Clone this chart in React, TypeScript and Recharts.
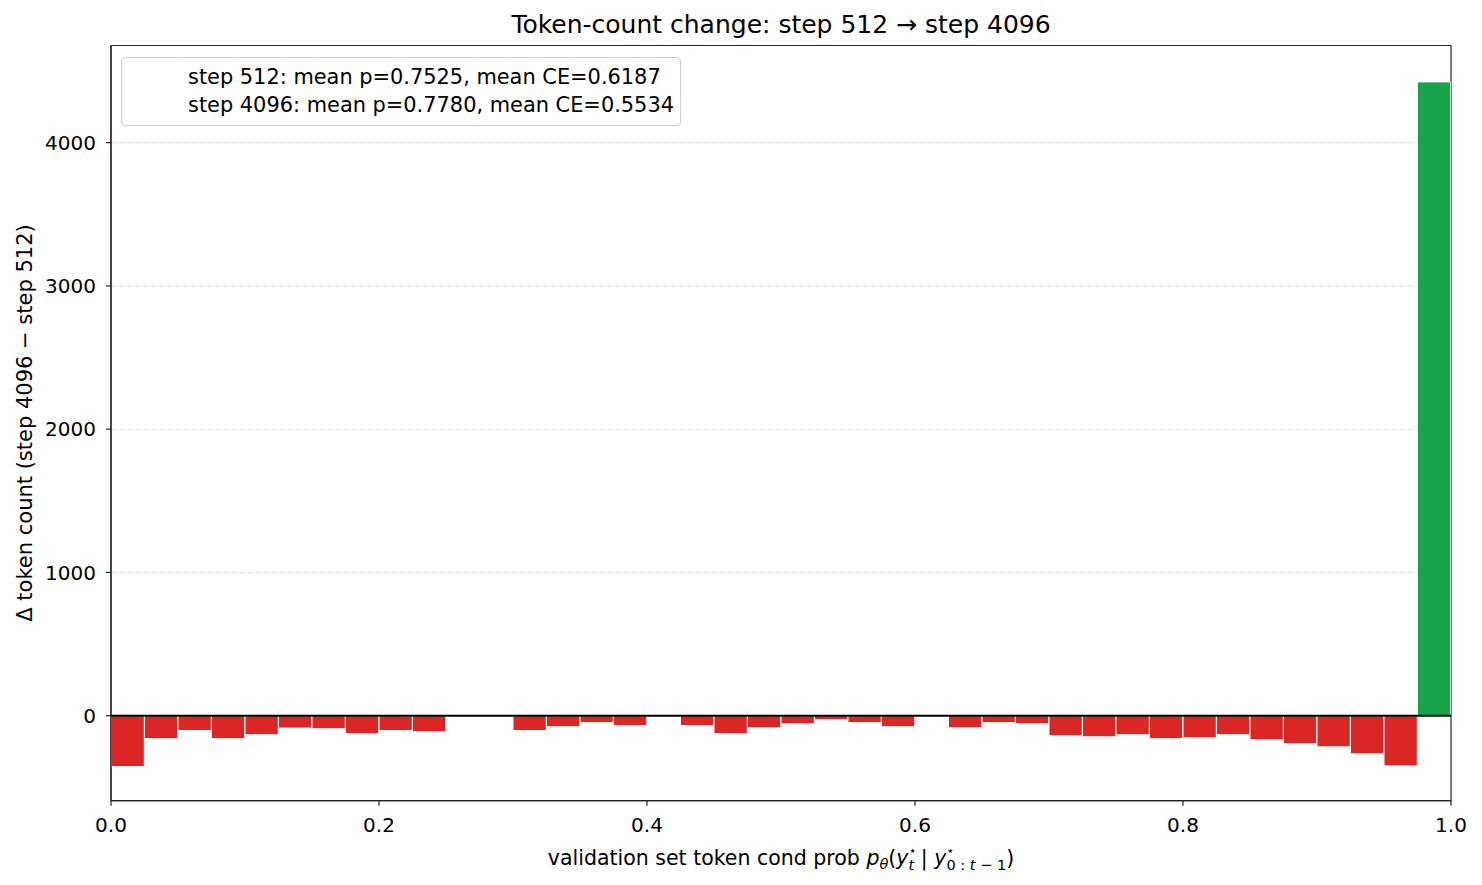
import { Bar, BarChart, CartesianGrid, Cell, ReferenceArea, ReferenceLine, XAxis, YAxis } from "recharts";

// centres of the 40 bins (width 0.025) over [0, 1]
const BIN_CENTERS = [
  0.0125, 0.0375, 0.0625, 0.0875, 0.1125, 0.1375, 0.1625, 0.1875, 0.2125, 0.2375,
  0.2625, 0.2875, 0.3125, 0.3375, 0.3625, 0.3875, 0.4125, 0.4375, 0.4625, 0.4875,
  0.5125, 0.5375, 0.5625, 0.5875, 0.6125, 0.6375, 0.6625, 0.6875, 0.7125, 0.7375,
  0.7625, 0.7875, 0.8125, 0.8375, 0.8625, 0.8875, 0.9125, 0.9375, 0.9625, 0.9875,
];

// step 4096 count minus step 512 count, per bin
const DELTA = [
  -355, -160, -103, -160, -133, -86, -91, -126, -103, -112,
  0, 0, -103, -77, -48, -69, 0, -69, -126, -84,
  -56, -28, -48, -77, 0, -84, -48, -56, -140, -147,
  -133, -160, -154, -133, -168, -196, -217, -266, -350, 4424,
];

const X_TICKS = [0, 0.2, 0.4, 0.6, 0.8, 1.0];
const Y_TICKS = [0, 1000, 2000, 3000, 4000];
const Y_DOMAIN: [number, number] = [-593, 4678];

const LEGEND_LINES = [
  "step 512: mean p=0.7525, mean CE=0.6187",
  "step 4096: mean p=0.7780, mean CE=0.5534",
];

const RED = "#dc2626";
const GREEN = "#16a34a";
const SPINE = "#222222";
const FONT = "'DejaVu Sans', sans-serif";

const W = 1482;
const H = 885;
const PLOT_W = 1340; // 111 .. 1451
// a hair under the bin width, otherwise recharts shrinks bars to 90%
const BAR_W = PLOT_W / BIN_CENTERS.length - 0.2;

const data = BIN_CENTERS.map((mid, i) => ({ mid, delta: DELTA[i] }));

const tickStyle = { fontSize: 20, fill: "#000", fontFamily: FONT };

export default function App() {
  return (
    <div style={{ position: "absolute", left: 0, top: 0, width: W, height: H, background: "#fff", fontFamily: FONT }}>
      <BarChart
        width={W}
        height={H}
        data={data}
        barCategoryGap={0}
        barGap={0}
        margin={{ top: 45.5, right: 31, bottom: 44.3, left: 11 }}
      >
        <CartesianGrid
          vertical={false}
          stroke="#e2e2e2"
          strokeDasharray="5.5 2.5"
          strokeWidth={1.1}
        />
        <XAxis
          dataKey="mid"
          type="number"
          domain={[0, 1]}
          ticks={X_TICKS}
          allowDataOverflow
          tickFormatter={(v: number) => v.toFixed(1)}
          tick={tickStyle}
          tickSize={5}
          tickMargin={12}
          height={40}
          stroke={SPINE}
          strokeWidth={1.2}
        />
        <YAxis
          type="number"
          domain={Y_DOMAIN}
          ticks={Y_TICKS}
          allowDataOverflow
          tick={tickStyle}
          tickSize={5}
          tickMargin={10}
          width={100}
          stroke={SPINE}
          strokeWidth={1.2}
        />
        <Bar
          dataKey="delta"
          barSize={BAR_W}
          stroke="#ffffff"
          strokeWidth={1}
          isAnimationActive={false}
        >
          {data.map((d) => (
            <Cell key={d.mid} fill={d.delta >= 0 ? GREEN : RED} />
          ))}
        </Bar>
        <ReferenceLine y={0} stroke="#000" strokeWidth={1.8} />
        {/* full axes box (top and right spines) */}
        <ReferenceArea
          x1={0}
          x2={1}
          y1={Y_DOMAIN[0]}
          y2={Y_DOMAIN[1]}
          fill="none"
          fillOpacity={0}
          stroke={SPINE}
          strokeWidth={1.2}
          strokeOpacity={1}
        />
      </BarChart>

      {/* title and axis labels */}
      <svg width={W} height={H} style={{ position: "absolute", left: 0, top: 0, pointerEvents: "none" }}>
        <text x={781} y={33} textAnchor="middle" fontSize={25} fontFamily={FONT} fill="#000">
          Token-count change: step 512 → step 4096
        </text>
        <text
          x={25}
          y={423}
          transform="rotate(-90 25 423)"
          textAnchor="middle"
          dominantBaseline="central"
          fontSize={21}
          fontFamily={FONT}
          fill="#000"
        >
          Δ token count (step 4096 − step 512)
        </text>
        <text x={781} y={865} textAnchor="middle" fontSize={20.5} fontFamily={FONT} fill="#000">
          validation set token cond prob{" "}
          <tspan fontStyle="italic">p</tspan>
          <tspan fontStyle="italic" fontSize={14.5} dy={4}>θ</tspan>
          <tspan dy={-4}>(</tspan>
          <tspan fontStyle="italic">y</tspan>
          <tspan fontSize={13} dy={-10}>⋆</tspan>
          <tspan fontStyle="italic" fontSize={14.5} dx={-8} dy={15}>t</tspan>
          <tspan dy={-5}>{"  |  "}</tspan>
          <tspan fontStyle="italic">y</tspan>
          <tspan fontSize={13} dy={-10}>⋆</tspan>
          <tspan fontSize={14.5} dx={-8} dy={15}>0 : </tspan>
          <tspan fontStyle="italic" fontSize={14.5}>t</tspan>
          <tspan fontSize={14.5}> − 1</tspan>
          <tspan dy={-5}>)</tspan>
        </text>
      </svg>

      {/* legend (handles are blank in the original) */}
      <div
        style={{
          position: "absolute",
          left: 121,
          top: 57,
          width: 560,
          height: 69,
          border: "1px solid #cfcfcf",
          borderRadius: 4,
          background: "rgba(255,255,255,0.8)",
          paddingLeft: 66,
          paddingTop: 5,
          boxSizing: "border-box",
          fontSize: 20.9,
          lineHeight: "28px",
          color: "#000",
          whiteSpace: "nowrap",
        }}
      >
        {LEGEND_LINES.map((line) => (
          <div key={line}>{line}</div>
        ))}
      </div>
    </div>
  );
}
